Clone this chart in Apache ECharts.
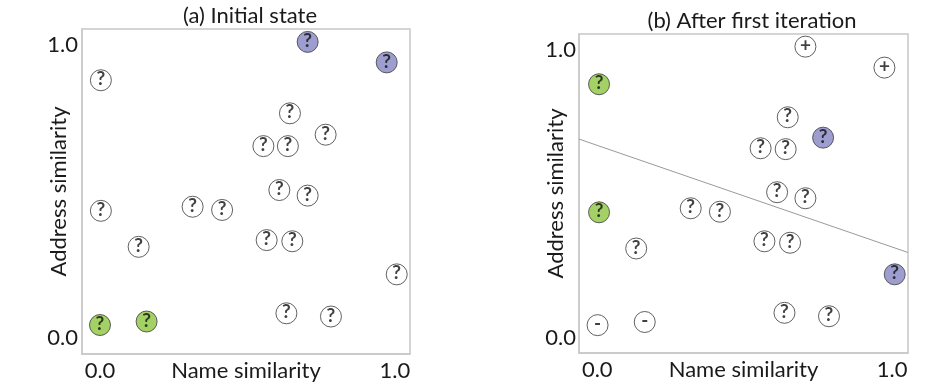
<!DOCTYPE html>
<html>
<head>
<meta charset="utf-8">
<script src="https://cdn.jsdelivr.net/npm/echarts@6/dist/echarts.min.js"></script>
<style>
html,body{margin:0;padding:0;background:#fff;}
#chart{width:928px;height:387px;}
</style>
</head>
<body>
<div id="chart"></div>
<script>
// Shared point positions (name similarity, address similarity)
const leftX  = [0.704, 0.972, 0.003, 0.644, 0.765, 0.554, 0.637, 0.608, 0.704, 0.003, 0.314, 0.414, 0.131, 0.565, 0.652, 1.006, 0.632, 0.783, 0.000, 0.158];
const leftY  = [1.011, 0.941, 0.880, 0.767, 0.694, 0.655, 0.655, 0.505, 0.486, 0.434, 0.448, 0.437, 0.311, 0.334, 0.330, 0.217, 0.084, 0.073, 0.044, 0.056];
// Point classes for panel (a) and (b): 'pos' purple ?, 'neg' green ?, 'unk' plain ?, 'plus' +, 'minus' -
const leftClass  = ['pos','pos','unk','unk','unk','unk','unk','unk','unk','unk','unk','unk','unk','unk','unk','unk','unk','unk','neg','neg'];
const rightClass = ['plus','plus','neg','unk','pos','unk','unk','unk','unk','neg','unk','unk','unk','unk','unk','pos','unk','unk','minus','minus'];
const rightX = [0.706, 0.974, 0.006, 0.646, 0.766, 0.554, 0.639, 0.610, 0.706, 0.006, 0.317, 0.416, 0.132, 0.567, 0.654, 1.009, 0.635, 0.786, 0.001, 0.161];
const rightY = [1.013, 0.940, 0.882, 0.767, 0.696, 0.659, 0.656, 0.506, 0.485, 0.436, 0.450, 0.438, 0.310, 0.335, 0.330, 0.220, 0.086, 0.074, 0.043, 0.054];
// Separator line in panel (b)
const sepX = [-0.062, 1.054];
const sepY = [0.691, 0.296];
const tickValues = [0, 1];
const titles = ['(a) Initial state', '(b) After first iteration'];
const xName = 'Name similarity';
const yName = 'Address similarity';

const FONT = 'Lato';
const fillOf = {pos:'#8585c4', neg:'#8dc63f', unk:'#ffffff', plus:'#ffffff', minus:'#ffffff'};
const textOf = {pos:'?', neg:'?', unk:'?', plus:'+', minus:'-'};

function pts(xs, ys, cls){
  return xs.map((x,i)=>({
    value:[x, ys[i]],
    itemStyle:{color:fillOf[cls[i]], borderColor:'#3a3a3a', borderWidth:1},
    label:{formatter:textOf[cls[i]]}
  }));
}

const chart = echarts.init(document.getElementById('chart'), null, {renderer:'canvas'});

function xAxis(gi, min, max){
  return {
    gridIndex:gi, type:'value', min:min, max:max,
    name:xName, nameLocation:'middle', nameGap:6, nameMoveOverlap:false,
    nameTextStyle:{fontFamily:FONT, fontSize:22, color:'#1a1a1a', verticalAlign:'top'},
    axisLine:{show:true, onZero:false, lineStyle:{color:'#c8c8c8', width:1.5}},
    axisTick:{show:false},
    splitLine:{show:false},
    axisLabel:{customValues:tickValues, formatter:v=>v.toFixed(1), fontFamily:FONT, fontSize:22, color:'#1a1a1a', margin:6}
  };
}
function yAxis(gi, min, max, margin){
  return {
    gridIndex:gi, type:'value', min:min, max:max,
    name:yName, nameLocation:'middle', nameGap:12, nameMoveOverlap:false,
    nameTextStyle:{fontFamily:FONT, fontSize:22, color:'#1a1a1a'},
    axisLine:{show:true, onZero:false, lineStyle:{color:'#c8c8c8', width:1.5}},
    axisTick:{show:false},
    splitLine:{show:false},
    axisLabel:{customValues:tickValues, formatter:v=>v.toFixed(1), fontFamily:FONT, fontSize:22, color:'#1a1a1a', margin:margin}
  };
}

const labelBase = {show:true, position:'inside', fontFamily:FONT, fontWeight:'bold', fontSize:19, color:'#111', offset:[0,-1]};

chart.setOption({
  animation:false,
  backgroundColor:'#fff',
  title:[
    {text:titles[0], left:245, top:0, textAlign:'center', textStyle:{fontFamily:FONT, fontSize:22, fontWeight:'normal', color:'#1a1a1a'}},
    {text:titles[1], left:747, top:5, textAlign:'center', textStyle:{fontFamily:FONT, fontSize:22, fontWeight:'normal', color:'#1a1a1a'}}
  ],
  grid:[
    {left:82, top:29, width:328, height:325, containLabel:false, outerBoundsMode:'none', show:true, borderColor:'#c8c8c8', borderWidth:1.5, backgroundColor:'transparent'},
    {left:579, top:34, width:329, height:319, containLabel:false, outerBoundsMode:'none', show:true, borderColor:'#c8c8c8', borderWidth:1.5, backgroundColor:'transparent'}
  ],
  xAxis:[xAxis(0, -0.061, 1.051), xAxis(1, -0.062, 1.054)],
  yAxis:[yAxis(0, -0.055, 1.055, 4), yAxis(1, -0.054, 1.057, 3)],
  series:[
    {type:'line', xAxisIndex:1, yAxisIndex:1, data:sepX.map((x,i)=>[x, sepY[i]]), symbol:'none',
     lineStyle:{color:'#9a9a9a', width:1}, z:1, silent:true},
    {type:'scatter', xAxisIndex:0, yAxisIndex:0, symbolSize:21, data:pts(leftX, leftY, leftClass), label:labelBase, z:3},
    {type:'scatter', xAxisIndex:1, yAxisIndex:1, symbolSize:21, data:pts(rightX, rightY, rightClass), label:labelBase, z:3}
  ]
});
</script>
</body>
</html>
